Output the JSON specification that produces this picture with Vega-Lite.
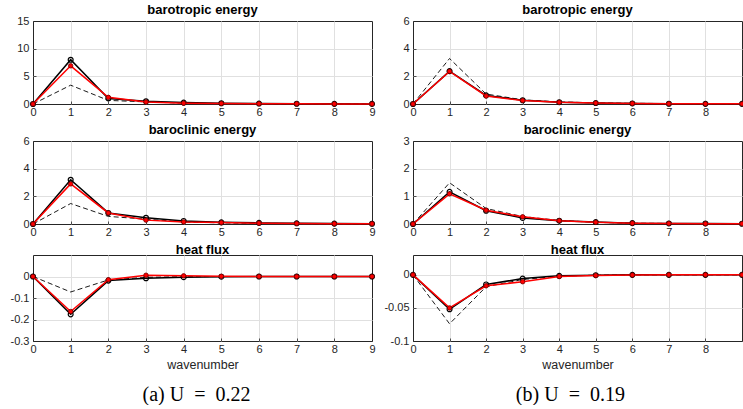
{
"$schema": "https://vega.github.io/schema/vega-lite/v6.json",
"padding": {"left": 9, "top": 3, "right": 0, "bottom": 0},
"background": "white",
"data": {"values": [
{"c":"a","p":"bt","s":"b","k":0,"v":0},{"c":"a","p":"bt","s":"b","k":1,"v":8.0},{"c":"a","p":"bt","s":"b","k":2,"v":1.0},{"c":"a","p":"bt","s":"b","k":3,"v":0.5},{"c":"a","p":"bt","s":"b","k":4,"v":0.25},{"c":"a","p":"bt","s":"b","k":5,"v":0.13},{"c":"a","p":"bt","s":"b","k":6,"v":0.08},{"c":"a","p":"bt","s":"b","k":7,"v":0.05},{"c":"a","p":"bt","s":"b","k":8,"v":0.03},{"c":"a","p":"bt","s":"b","k":9,"v":0.02},
{"c":"a","p":"bt","s":"r","k":0,"v":0},{"c":"a","p":"bt","s":"r","k":1,"v":6.9},{"c":"a","p":"bt","s":"r","k":2,"v":1.2},{"c":"a","p":"bt","s":"r","k":3,"v":0.35},{"c":"a","p":"bt","s":"r","k":4,"v":0.15},{"c":"a","p":"bt","s":"r","k":5,"v":0.1},{"c":"a","p":"bt","s":"r","k":6,"v":0.06},{"c":"a","p":"bt","s":"r","k":7,"v":0.04},{"c":"a","p":"bt","s":"r","k":8,"v":0.02},{"c":"a","p":"bt","s":"r","k":9,"v":0.01},
{"c":"a","p":"bt","s":"d","k":0,"v":0},{"c":"a","p":"bt","s":"d","k":1,"v":3.4},{"c":"a","p":"bt","s":"d","k":2,"v":0.65},{"c":"a","p":"bt","s":"d","k":3,"v":0.38},{"c":"a","p":"bt","s":"d","k":4,"v":0.15},{"c":"a","p":"bt","s":"d","k":5,"v":0.08},{"c":"a","p":"bt","s":"d","k":6,"v":0.05},{"c":"a","p":"bt","s":"d","k":7,"v":0.03},{"c":"a","p":"bt","s":"d","k":8,"v":0.02},{"c":"a","p":"bt","s":"d","k":9,"v":0.01},
{"c":"a","p":"bc","s":"b","k":0,"v":0},{"c":"a","p":"bc","s":"b","k":1,"v":3.2},{"c":"a","p":"bc","s":"b","k":2,"v":0.8},{"c":"a","p":"bc","s":"b","k":3,"v":0.45},{"c":"a","p":"bc","s":"b","k":4,"v":0.22},{"c":"a","p":"bc","s":"b","k":5,"v":0.12},{"c":"a","p":"bc","s":"b","k":6,"v":0.08},{"c":"a","p":"bc","s":"b","k":7,"v":0.05},{"c":"a","p":"bc","s":"b","k":8,"v":0.03},{"c":"a","p":"bc","s":"b","k":9,"v":0.02},
{"c":"a","p":"bc","s":"r","k":0,"v":0},{"c":"a","p":"bc","s":"r","k":1,"v":2.9},{"c":"a","p":"bc","s":"r","k":2,"v":0.8},{"c":"a","p":"bc","s":"r","k":3,"v":0.28},{"c":"a","p":"bc","s":"r","k":4,"v":0.15},{"c":"a","p":"bc","s":"r","k":5,"v":0.1},{"c":"a","p":"bc","s":"r","k":6,"v":0.06},{"c":"a","p":"bc","s":"r","k":7,"v":0.04},{"c":"a","p":"bc","s":"r","k":8,"v":0.02},{"c":"a","p":"bc","s":"r","k":9,"v":0.02},
{"c":"a","p":"bc","s":"d","k":0,"v":0},{"c":"a","p":"bc","s":"d","k":1,"v":1.48},{"c":"a","p":"bc","s":"d","k":2,"v":0.55},{"c":"a","p":"bc","s":"d","k":3,"v":0.35},{"c":"a","p":"bc","s":"d","k":4,"v":0.15},{"c":"a","p":"bc","s":"d","k":5,"v":0.08},{"c":"a","p":"bc","s":"d","k":6,"v":0.05},{"c":"a","p":"bc","s":"d","k":7,"v":0.03},{"c":"a","p":"bc","s":"d","k":8,"v":0.02},{"c":"a","p":"bc","s":"d","k":9,"v":0.01},
{"c":"a","p":"hf","s":"b","k":0,"v":0},{"c":"a","p":"hf","s":"b","k":1,"v":-0.176},{"c":"a","p":"hf","s":"b","k":2,"v":-0.019},{"c":"a","p":"hf","s":"b","k":3,"v":-0.008},{"c":"a","p":"hf","s":"b","k":4,"v":-0.003},{"c":"a","p":"hf","s":"b","k":5,"v":-0.001},{"c":"a","p":"hf","s":"b","k":6,"v":0},{"c":"a","p":"hf","s":"b","k":7,"v":0},{"c":"a","p":"hf","s":"b","k":8,"v":0},{"c":"a","p":"hf","s":"b","k":9,"v":0},
{"c":"a","p":"hf","s":"r","k":0,"v":0},{"c":"a","p":"hf","s":"r","k":1,"v":-0.163},{"c":"a","p":"hf","s":"r","k":2,"v":-0.015},{"c":"a","p":"hf","s":"r","k":3,"v":0.006},{"c":"a","p":"hf","s":"r","k":4,"v":0.003},{"c":"a","p":"hf","s":"r","k":5,"v":0.001},{"c":"a","p":"hf","s":"r","k":6,"v":0},{"c":"a","p":"hf","s":"r","k":7,"v":0},{"c":"a","p":"hf","s":"r","k":8,"v":0},{"c":"a","p":"hf","s":"r","k":9,"v":0},
{"c":"a","p":"hf","s":"d","k":0,"v":0},{"c":"a","p":"hf","s":"d","k":1,"v":-0.072},{"c":"a","p":"hf","s":"d","k":2,"v":-0.016},{"c":"a","p":"hf","s":"d","k":3,"v":-0.004},{"c":"a","p":"hf","s":"d","k":4,"v":-0.001},{"c":"a","p":"hf","s":"d","k":5,"v":0},{"c":"a","p":"hf","s":"d","k":6,"v":0},{"c":"a","p":"hf","s":"d","k":7,"v":0},{"c":"a","p":"hf","s":"d","k":8,"v":0},{"c":"a","p":"hf","s":"d","k":9,"v":0},
{"c":"b","p":"bt","s":"b","k":0,"v":0},{"c":"b","p":"bt","s":"b","k":1,"v":2.38},{"c":"b","p":"bt","s":"b","k":2,"v":0.62},{"c":"b","p":"bt","s":"b","k":3,"v":0.27},{"c":"b","p":"bt","s":"b","k":4,"v":0.13},{"c":"b","p":"bt","s":"b","k":5,"v":0.07},{"c":"b","p":"bt","s":"b","k":6,"v":0.04},{"c":"b","p":"bt","s":"b","k":7,"v":0.02},{"c":"b","p":"bt","s":"b","k":8,"v":0.01},{"c":"b","p":"bt","s":"b","k":9,"v":0.01},
{"c":"b","p":"bt","s":"r","k":0,"v":0},{"c":"b","p":"bt","s":"r","k":1,"v":2.36},{"c":"b","p":"bt","s":"r","k":2,"v":0.58},{"c":"b","p":"bt","s":"r","k":3,"v":0.25},{"c":"b","p":"bt","s":"r","k":4,"v":0.12},{"c":"b","p":"bt","s":"r","k":5,"v":0.07},{"c":"b","p":"bt","s":"r","k":6,"v":0.04},{"c":"b","p":"bt","s":"r","k":7,"v":0.02},{"c":"b","p":"bt","s":"r","k":8,"v":0.01},{"c":"b","p":"bt","s":"r","k":9,"v":0.01},
{"c":"b","p":"bt","s":"d","k":0,"v":0},{"c":"b","p":"bt","s":"d","k":1,"v":3.29},{"c":"b","p":"bt","s":"d","k":2,"v":0.72},{"c":"b","p":"bt","s":"d","k":3,"v":0.3},{"c":"b","p":"bt","s":"d","k":4,"v":0.15},{"c":"b","p":"bt","s":"d","k":5,"v":0.08},{"c":"b","p":"bt","s":"d","k":6,"v":0.05},{"c":"b","p":"bt","s":"d","k":7,"v":0.03},{"c":"b","p":"bt","s":"d","k":8,"v":0.02},{"c":"b","p":"bt","s":"d","k":9,"v":0.01},
{"c":"b","p":"bc","s":"b","k":0,"v":0},{"c":"b","p":"bc","s":"b","k":1,"v":1.16},{"c":"b","p":"bc","s":"b","k":2,"v":0.48},{"c":"b","p":"bc","s":"b","k":3,"v":0.22},{"c":"b","p":"bc","s":"b","k":4,"v":0.12},{"c":"b","p":"bc","s":"b","k":5,"v":0.07},{"c":"b","p":"bc","s":"b","k":6,"v":0.03},{"c":"b","p":"bc","s":"b","k":7,"v":0.02},{"c":"b","p":"bc","s":"b","k":8,"v":0.02},{"c":"b","p":"bc","s":"b","k":9,"v":0.01},
{"c":"b","p":"bc","s":"r","k":0,"v":0},{"c":"b","p":"bc","s":"r","k":1,"v":1.09},{"c":"b","p":"bc","s":"r","k":2,"v":0.5},{"c":"b","p":"bc","s":"r","k":3,"v":0.26},{"c":"b","p":"bc","s":"r","k":4,"v":0.12},{"c":"b","p":"bc","s":"r","k":5,"v":0.06},{"c":"b","p":"bc","s":"r","k":6,"v":0.03},{"c":"b","p":"bc","s":"r","k":7,"v":0.02},{"c":"b","p":"bc","s":"r","k":8,"v":0.01},{"c":"b","p":"bc","s":"r","k":9,"v":0.01},
{"c":"b","p":"bc","s":"d","k":0,"v":0},{"c":"b","p":"bc","s":"d","k":1,"v":1.49},{"c":"b","p":"bc","s":"d","k":2,"v":0.56},{"c":"b","p":"bc","s":"d","k":3,"v":0.27},{"c":"b","p":"bc","s":"d","k":4,"v":0.13},{"c":"b","p":"bc","s":"d","k":5,"v":0.06},{"c":"b","p":"bc","s":"d","k":6,"v":0.03},{"c":"b","p":"bc","s":"d","k":7,"v":0.02},{"c":"b","p":"bc","s":"d","k":8,"v":0.01},{"c":"b","p":"bc","s":"d","k":9,"v":0.01},
{"c":"b","p":"hf","s":"b","k":0,"v":0},{"c":"b","p":"hf","s":"b","k":1,"v":-0.052},{"c":"b","p":"hf","s":"b","k":2,"v":-0.0145},{"c":"b","p":"hf","s":"b","k":3,"v":-0.0057},{"c":"b","p":"hf","s":"b","k":4,"v":-0.0015},{"c":"b","p":"hf","s":"b","k":5,"v":-0.0005},{"c":"b","p":"hf","s":"b","k":6,"v":0},{"c":"b","p":"hf","s":"b","k":7,"v":0},{"c":"b","p":"hf","s":"b","k":8,"v":0},{"c":"b","p":"hf","s":"b","k":9,"v":0},
{"c":"b","p":"hf","s":"r","k":0,"v":0},{"c":"b","p":"hf","s":"r","k":1,"v":-0.05},{"c":"b","p":"hf","s":"r","k":2,"v":-0.0166},{"c":"b","p":"hf","s":"r","k":3,"v":-0.0104},{"c":"b","p":"hf","s":"r","k":4,"v":-0.0026},{"c":"b","p":"hf","s":"r","k":5,"v":-0.001},{"c":"b","p":"hf","s":"r","k":6,"v":-0.0003},{"c":"b","p":"hf","s":"r","k":7,"v":0},{"c":"b","p":"hf","s":"r","k":8,"v":0},{"c":"b","p":"hf","s":"r","k":9,"v":0},
{"c":"b","p":"hf","s":"d","k":0,"v":0},{"c":"b","p":"hf","s":"d","k":1,"v":-0.074},{"c":"b","p":"hf","s":"d","k":2,"v":-0.018},{"c":"b","p":"hf","s":"d","k":3,"v":-0.007},{"c":"b","p":"hf","s":"d","k":4,"v":-0.002},{"c":"b","p":"hf","s":"d","k":5,"v":-0.0005},{"c":"b","p":"hf","s":"d","k":6,"v":0},{"c":"b","p":"hf","s":"d","k":7,"v":0},{"c":"b","p":"hf","s":"d","k":8,"v":0},{"c":"b","p":"hf","s":"d","k":9,"v":0}
]},
"hconcat": [
{
"spacing": 5,
"title": {"text": "(a) U\u2002=\u20020.22", "orient": "bottom", "anchor": "middle", "offset": 14, "dx": 3, "font": "Liberation Serif", "fontSize": 20, "fontWeight": "normal", "color": "black"},
"vconcat": [
{"title": "barotropic energy", "width": 339, "height": 83,
 "transform": [{"filter": "datum.c=='a' && datum.p=='bt'"}],
 "encoding": {
  "x": {"field": "k", "type": "quantitative", "scale": {"domain": [0, 9]}, "axis": {"values": [0,1,2,3,4,5,6,7,8,9], "title": null, "labelFlush": false, "gridOpacity": {"condition": {"test": "datum.value == 0 || datum.value == 9", "value": 0}, "value": 1}}},
  "y": {"field": "v", "type": "quantitative", "scale": {"domain": [0, 15]}, "axis": {"values": [0,5,10,15], "title": null, "gridOpacity": {"condition": {"test": "datum.value == 0 || datum.value == 15", "value": 0}, "value": 1}, "labelExpr": "datum.value < 0 ? '-' + format(-datum.value, '~g') : format(datum.value, '~g')"}}},
 "layer": [
  {"transform": [{"filter": "datum.s=='d'"}], "mark": {"type": "line", "color": "black", "strokeWidth": 0.9, "strokeDash": [5, 3]}},
  {"transform": [{"filter": "datum.s=='b'"}], "mark": {"type": "line", "color": "black", "strokeWidth": 1.5, "point": {"filled": false, "size": 24, "strokeWidth": 1.2, "color": "black"}}},
  {"transform": [{"filter": "datum.s=='r'"}], "mark": {"type": "line", "color": "red", "strokeWidth": 1.5, "point": {"filled": true, "size": 20, "fill": "red", "stroke": "#700000", "strokeWidth": 0.8}}}
 ]},
{"title": "baroclinic energy", "width": 339, "height": 83,
 "transform": [{"filter": "datum.c=='a' && datum.p=='bc'"}],
 "encoding": {
  "x": {"field": "k", "type": "quantitative", "scale": {"domain": [0, 9]}, "axis": {"values": [0,1,2,3,4,5,6,7,8,9], "title": null, "labelFlush": false, "gridOpacity": {"condition": {"test": "datum.value == 0 || datum.value == 9", "value": 0}, "value": 1}}},
  "y": {"field": "v", "type": "quantitative", "scale": {"domain": [0, 6]}, "axis": {"values": [0,2,4,6], "title": null, "gridOpacity": {"condition": {"test": "datum.value == 0 || datum.value == 6", "value": 0}, "value": 1}, "labelExpr": "datum.value < 0 ? '-' + format(-datum.value, '~g') : format(datum.value, '~g')"}}},
 "layer": [
  {"transform": [{"filter": "datum.s=='d'"}], "mark": {"type": "line", "color": "black", "strokeWidth": 0.9, "strokeDash": [5, 3]}},
  {"transform": [{"filter": "datum.s=='b'"}], "mark": {"type": "line", "color": "black", "strokeWidth": 1.5, "point": {"filled": false, "size": 24, "strokeWidth": 1.2, "color": "black"}}},
  {"transform": [{"filter": "datum.s=='r'"}], "mark": {"type": "line", "color": "red", "strokeWidth": 1.5, "point": {"filled": true, "size": 20, "fill": "red", "stroke": "#700000", "strokeWidth": 0.8}}}
 ]},
{"title": "heat flux", "width": 339, "height": 86,
 "transform": [{"filter": "datum.c=='a' && datum.p=='hf'"}],
 "encoding": {
  "x": {"field": "k", "type": "quantitative", "scale": {"domain": [0, 9]}, "axis": {"values": [0,1,2,3,4,5,6,7,8,9], "title": "wavenumber", "labelFlush": false, "gridOpacity": {"condition": {"test": "datum.value == 0 || datum.value == 9", "value": 0}, "value": 1}}},
  "y": {"field": "v", "type": "quantitative", "scale": {"domain": [-0.3, 0.1]}, "axis": {"values": [-0.3,-0.2,-0.1,0], "title": null, "gridOpacity": {"condition": {"test": "datum.value == -0.3", "value": 0}, "value": 1}, "labelExpr": "datum.value < 0 ? '-' + format(-datum.value, '~g') : format(datum.value, '~g')"}}},
 "layer": [
  {"transform": [{"filter": "datum.s=='d'"}], "mark": {"type": "line", "color": "black", "strokeWidth": 0.9, "strokeDash": [5, 3]}},
  {"transform": [{"filter": "datum.s=='b'"}], "mark": {"type": "line", "color": "black", "strokeWidth": 1.5, "point": {"filled": false, "size": 24, "strokeWidth": 1.2, "color": "black"}}},
  {"transform": [{"filter": "datum.s=='r'"}], "mark": {"type": "line", "color": "red", "strokeWidth": 1.5, "point": {"filled": true, "size": 20, "fill": "red", "stroke": "#700000", "strokeWidth": 0.8}}}
 ]}
]
},
{
"spacing": 5,
"title": {"text": "(b) U\u2002=\u20020.19", "orient": "bottom", "anchor": "middle", "offset": 14, "dx": 5, "font": "Liberation Serif", "fontSize": 20, "fontWeight": "normal", "color": "black"},
"vconcat": [
{"title": "barotropic energy", "width": 329, "height": 83,
 "transform": [{"filter": "datum.c=='b' && datum.p=='bt'"}],
 "encoding": {
  "x": {"field": "k", "type": "quantitative", "scale": {"domain": [0, 9]}, "axis": {"values": [0,1,2,3,4,5,6,7,8,9], "title": null, "labelFlush": false, "labelExpr": "datum.value == 9 ? '' : datum.label", "gridOpacity": {"condition": {"test": "datum.value == 0 || datum.value == 9", "value": 0}, "value": 1}}},
  "y": {"field": "v", "type": "quantitative", "scale": {"domain": [0, 6]}, "axis": {"values": [0,2,4,6], "title": null, "gridOpacity": {"condition": {"test": "datum.value == 0 || datum.value == 6", "value": 0}, "value": 1}, "labelExpr": "datum.value < 0 ? '-' + format(-datum.value, '~g') : format(datum.value, '~g')"}}},
 "layer": [
  {"transform": [{"filter": "datum.s=='d'"}], "mark": {"type": "line", "color": "black", "strokeWidth": 0.9, "strokeDash": [5, 3]}},
  {"transform": [{"filter": "datum.s=='b'"}], "mark": {"type": "line", "color": "black", "strokeWidth": 1.5, "point": {"filled": false, "size": 24, "strokeWidth": 1.2, "color": "black"}}},
  {"transform": [{"filter": "datum.s=='r'"}], "mark": {"type": "line", "color": "red", "strokeWidth": 1.5, "point": {"filled": true, "size": 20, "fill": "red", "stroke": "#700000", "strokeWidth": 0.8}}}
 ]},
{"title": "baroclinic energy", "width": 329, "height": 83,
 "transform": [{"filter": "datum.c=='b' && datum.p=='bc'"}],
 "encoding": {
  "x": {"field": "k", "type": "quantitative", "scale": {"domain": [0, 9]}, "axis": {"values": [0,1,2,3,4,5,6,7,8,9], "title": null, "labelFlush": false, "labelExpr": "datum.value == 9 ? '' : datum.label", "gridOpacity": {"condition": {"test": "datum.value == 0 || datum.value == 9", "value": 0}, "value": 1}}},
  "y": {"field": "v", "type": "quantitative", "scale": {"domain": [0, 3]}, "axis": {"values": [0,1,2,3], "title": null, "gridOpacity": {"condition": {"test": "datum.value == 0 || datum.value == 3", "value": 0}, "value": 1}, "labelExpr": "datum.value < 0 ? '-' + format(-datum.value, '~g') : format(datum.value, '~g')"}}},
 "layer": [
  {"transform": [{"filter": "datum.s=='d'"}], "mark": {"type": "line", "color": "black", "strokeWidth": 0.9, "strokeDash": [5, 3]}},
  {"transform": [{"filter": "datum.s=='b'"}], "mark": {"type": "line", "color": "black", "strokeWidth": 1.5, "point": {"filled": false, "size": 24, "strokeWidth": 1.2, "color": "black"}}},
  {"transform": [{"filter": "datum.s=='r'"}], "mark": {"type": "line", "color": "red", "strokeWidth": 1.5, "point": {"filled": true, "size": 20, "fill": "red", "stroke": "#700000", "strokeWidth": 0.8}}}
 ]},
{"title": "heat flux", "width": 329, "height": 86,
 "transform": [{"filter": "datum.c=='b' && datum.p=='hf'"}],
 "encoding": {
  "x": {"field": "k", "type": "quantitative", "scale": {"domain": [0, 9]}, "axis": {"values": [0,1,2,3,4,5,6,7,8,9], "title": "wavenumber", "labelFlush": false, "labelExpr": "datum.value == 9 ? '' : datum.label", "gridOpacity": {"condition": {"test": "datum.value == 0 || datum.value == 9", "value": 0}, "value": 1}}},
  "y": {"field": "v", "type": "quantitative", "scale": {"domain": [-0.1, 0.03]}, "axis": {"values": [-0.1,-0.05,0], "title": null, "gridOpacity": {"condition": {"test": "datum.value == -0.1", "value": 0}, "value": 1}, "labelExpr": "datum.value < 0 ? '-' + format(-datum.value, '~g') : format(datum.value, '~g')"}}},
 "layer": [
  {"transform": [{"filter": "datum.s=='d'"}], "mark": {"type": "line", "color": "black", "strokeWidth": 0.9, "strokeDash": [5, 3]}},
  {"transform": [{"filter": "datum.s=='b'"}], "mark": {"type": "line", "color": "black", "strokeWidth": 1.5, "point": {"filled": false, "size": 24, "strokeWidth": 1.2, "color": "black"}}},
  {"transform": [{"filter": "datum.s=='r'"}], "mark": {"type": "line", "color": "red", "strokeWidth": 1.5, "point": {"filled": true, "size": 20, "fill": "red", "stroke": "#700000", "strokeWidth": 0.8}}}
 ]}
]
}
],
"spacing": 5,
"config": {
 "view": {"stroke": "#262626", "strokeWidth": 1},
 "axis": {"grid": true, "gridColor": "#e0e0e0", "gridWidth": 1, "domain": false, "ticks": true, "tickSize": -3, "tickColor": "#262626", "tickWidth": 0.8, "labelFont": "Liberation Sans", "labelFontSize": 11, "labelColor": "#262626", "labelOverlap": false, "titleFont": "Liberation Sans", "titleFontSize": 12.5, "titleColor": "#262626", "titleFontWeight": "normal", "titlePadding": 4},
 "axisX": {"labelPadding": 5},
 "axisY": {"labelPadding": 7},
 "title": {"font": "Liberation Sans", "fontSize": 13, "fontWeight": "bold", "color": "black", "offset": -2}
}
}
